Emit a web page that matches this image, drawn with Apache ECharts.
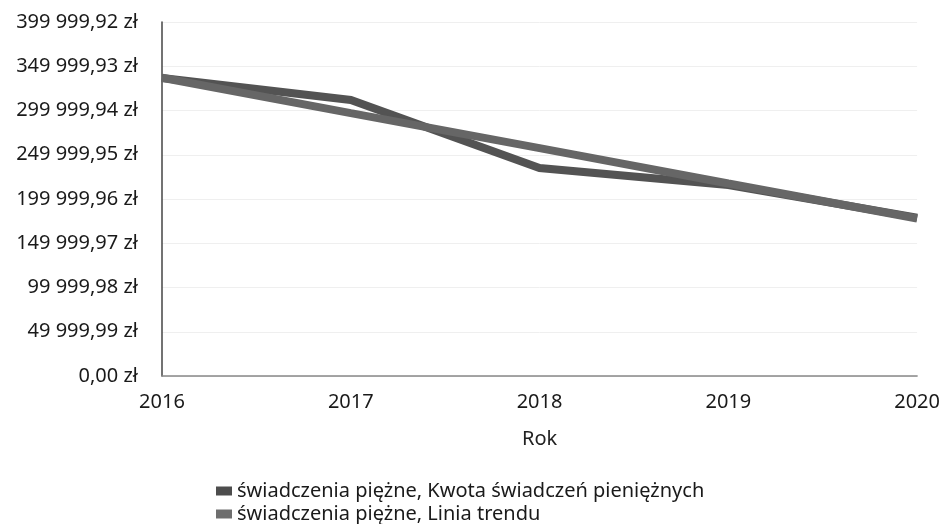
<!DOCTYPE html>
<html lang="pl">

<head>
    <meta charset="UTF-8">
    <title>Świadczenia pieniężne</title>
    <script type="text/javascript" src="https://cdn.jsdelivr.net/npm/echarts@6/dist/echarts.min.js"></script>
    <style>
        html, body { margin: 0; padding: 0; background: #fff; }
    </style>
</head>

<body>
    <div id="main" style="width:943px;height:524px;"></div>
</body>
<script type="text/javascript">

    // dane
    var years = ['2016', '2017', '2018', '2019', '2020'];
    var kwota = [336700, 311900, 235000, 215800, 179000];
    var trend = [337000, 297000, 257500, 217500, 178000];
    var seriesNames = [
        'świadczenia piężne, Kwota świadczeń pieniężnych',
        'świadczenia piężne, Linia trendu'
    ];
    var yMax = 399999.92;
    var yStep = 49999.99;

    function formatZl(v) {
        var parts = v.toFixed(2).split('.');
        var whole = parts[0].replace(/\B(?=(\d{3})+(?!\d))/g, ' ');
        return whole + ',' + parts[1] + ' zł';
    }

    var legendText = { fontSize: 20, color: '#1a1a1a', fontFamily: 'Noto Sans' };

    var chart = echarts.init(document.getElementById('main'));

    chart.setOption({
        animation: false,
        textStyle: { fontFamily: 'Noto Sans' },
        grid: { left: 162, right: 25, top: 22, bottom: 148 },
        // dwie legendy, zeby pozycje byly jedna pod druga
        legend: [
            {
                left: 211,
                top: 476,
                itemWidth: 16,
                itemHeight: 9,
                icon: 'rect',
                textStyle: legendText,
                data: [seriesNames[0]]
            },
            {
                left: 211,
                top: 499,
                itemWidth: 16,
                itemHeight: 9,
                icon: 'rect',
                textStyle: legendText,
                data: [seriesNames[1]]
            }
        ],
        xAxis: {
            type: 'category',
            boundaryGap: false,
            data: years,
            name: 'Rok',
            nameLocation: 'middle',
            nameGap: 53,
            nameTextStyle: { fontSize: 20, color: '#222' },
            axisLine: { lineStyle: { color: '#888', width: 1.5 } },
            axisTick: { show: false },
            axisLabel: { fontSize: 20, color: '#1a1a1a', margin: 16 },
            splitLine: { show: false }
        },
        yAxis: {
            type: 'value',
            min: 0,
            max: yMax,
            interval: yStep,
            axisLine: { show: true, lineStyle: { color: '#444', width: 1.5 } },
            axisTick: { show: false },
            axisLabel: {
                fontSize: 20,
                color: '#1a1a1a',
                margin: 24,
                formatter: function (v) { return formatZl(v); }
            },
            splitLine: { show: true, lineStyle: { color: '#efefef', width: 1 } }
        },
        series: [
            {
                name: seriesNames[0],
                type: 'line',
                data: kwota,
                showSymbol: false,
                symbol: 'none',
                lineStyle: { color: '#535353', width: 8, cap: 'butt', join: 'miter' },
                itemStyle: { color: '#4d4d4d' }
            },
            {
                name: seriesNames[1],
                type: 'line',
                data: trend,
                showSymbol: false,
                symbol: 'none',
                lineStyle: { color: '#666666', width: 8, cap: 'butt' },
                itemStyle: { color: '#6e6e6e' }
            }
        ]
    });
</script>

</html>
